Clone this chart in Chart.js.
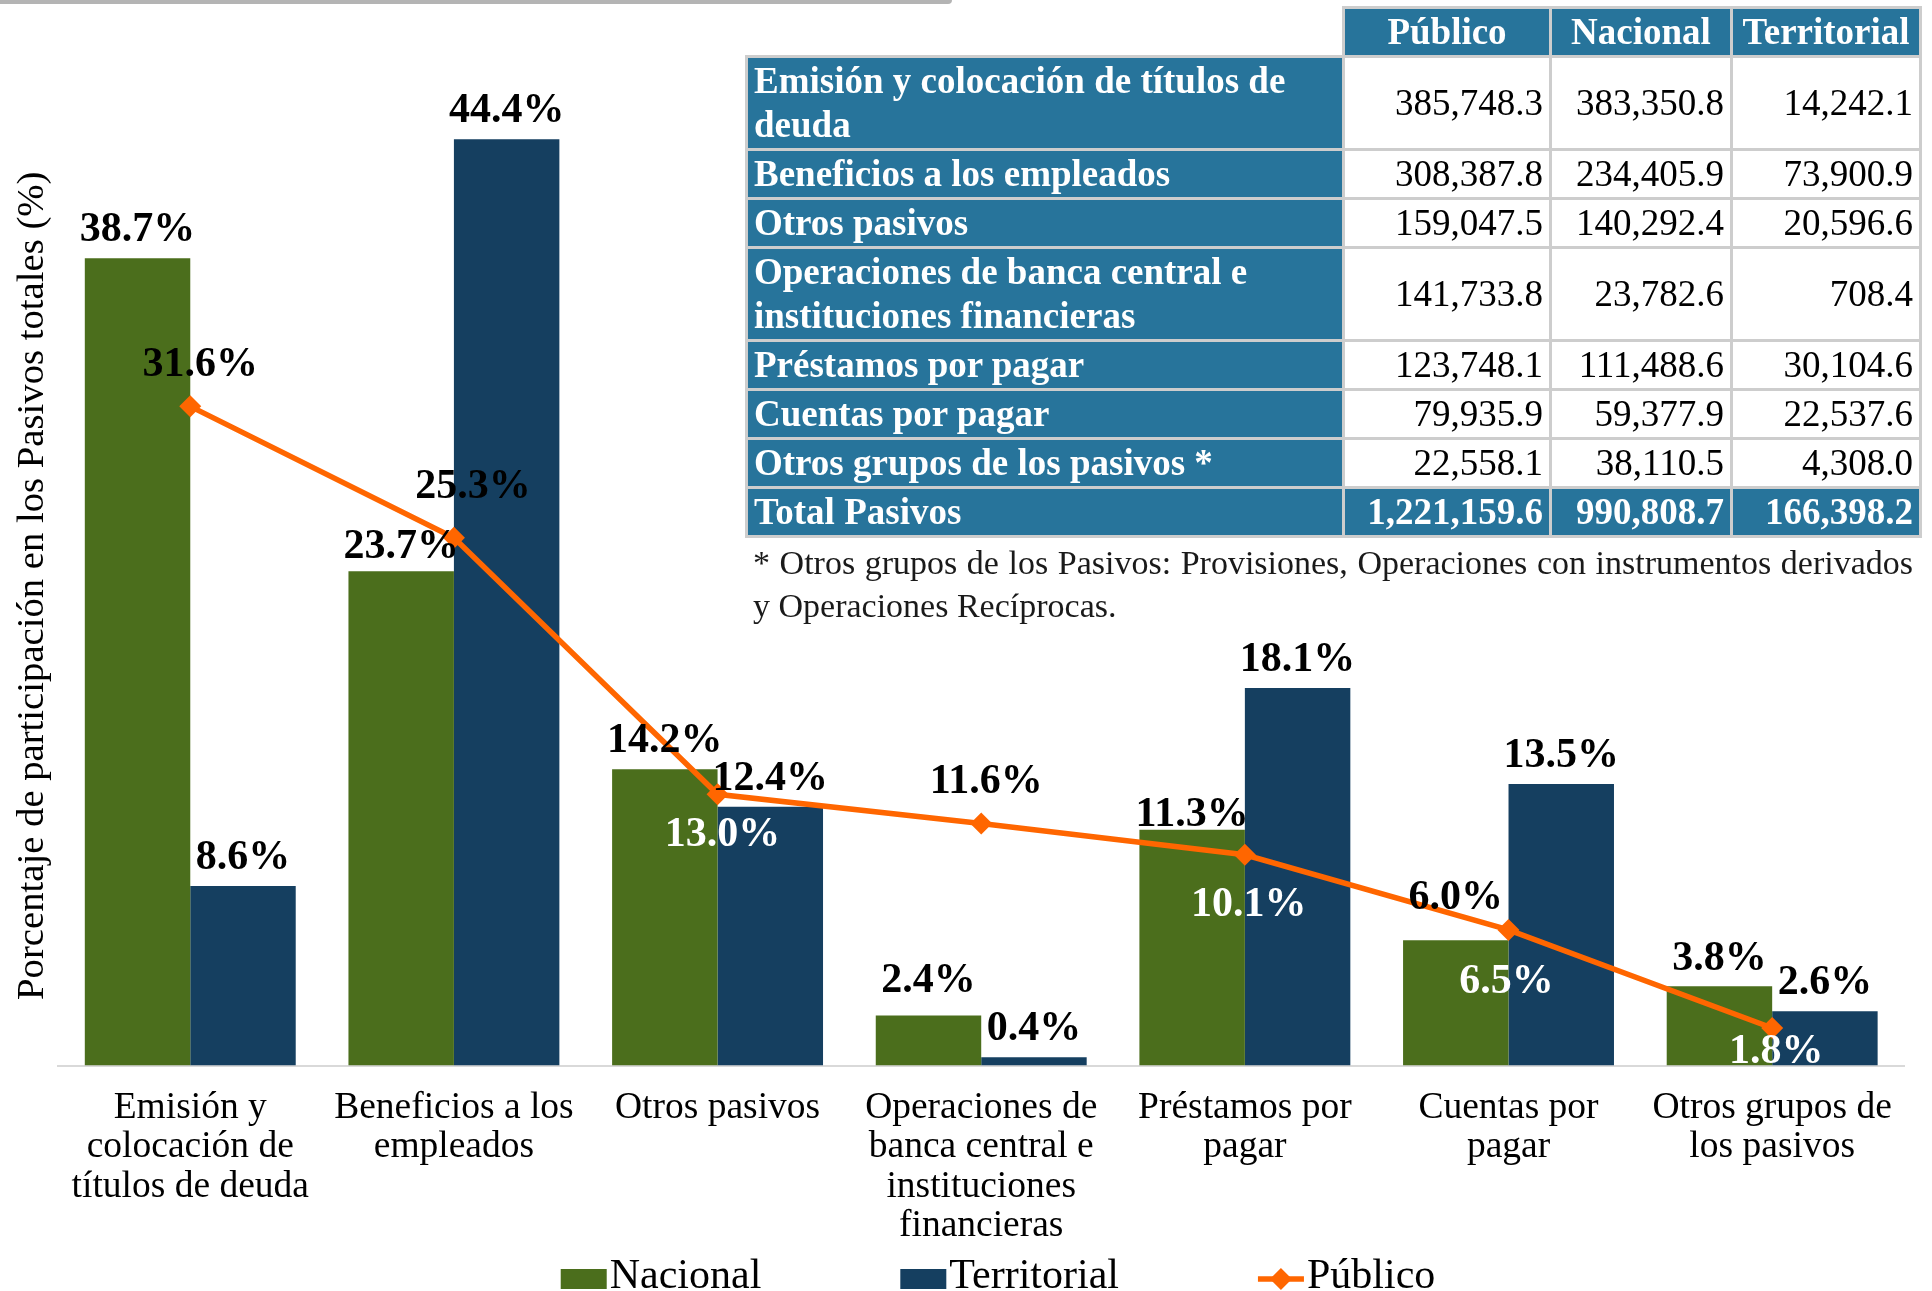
<!DOCTYPE html>
<html lang="es">
<head>
<meta charset="utf-8">
<title>Composición de los pasivos</title>
<script src="https://cdn.jsdelivr.net/npm/chart.js@4.4.1/dist/chart.umd.min.js"></script>
<style>
  html, body { margin: 0; padding: 0; background: #fff; overflow: hidden; }
  #contenedor { position: relative; width: 1932px; height: 1291px; }
  #grafico { position: absolute; left: 0; top: 0; }
  .franja { position: absolute; left: 0; top: 0; width: 952px; height: 4px; background: #b4b4b4; border-bottom-right-radius: 8px; }
  #tabla {
    position: absolute; left: 745px; top: 6px;
    border-collapse: collapse; table-layout: fixed;
    font-family: "Liberation Serif", "Times New Roman", serif; font-size: 37px;
  }
  #tabla th, #tabla td { border: 3px solid #cdcdcd; line-height: 44px; padding: 1px 6px; }
  #tabla th { background: #27749b; color: #fff; font-weight: bold; text-align: center; }
  #tabla th.vacio { background: none; border: none; }
  #tabla td.etiqueta { background: #27749b; color: #fff; font-weight: bold; text-align: left; }
  #tabla td.num { background: #fff; color: #000; text-align: right; }
  #tabla tr.total td { background: #27749b; color: #fff; font-weight: bold; }
  #nota {
    position: absolute; left: 753px; top: 541px; width: 1160px;
    font-family: "Liberation Serif", "Times New Roman", serif; font-size: 34px; line-height: 43px;
    text-align: justify; color: #1a1a1a;
  }
</style>
</head>
<body>
<div id="contenedor">
  <canvas id="grafico" width="1932" height="1291"></canvas>
  <div class="franja"></div>
  <table id="tabla">
    <colgroup><col style="width:597px"><col style="width:207px"><col style="width:181px"><col style="width:189px"></colgroup>
    <thead><tr><th class="vacio"></th><th>Público</th><th>Nacional</th><th>Territorial</th></tr></thead>
    <tbody></tbody>
  </table>
  <div id="nota">* Otros grupos de los Pasivos: Provisiones, Operaciones con instrumentos derivados y Operaciones Recíprocas.</div>
</div>
<script>
// Categorías del eje X (una línea por elemento)
const categorias = [
  ['Emisión y', 'colocación de', 'títulos de deuda'],
  ['Beneficios a los', 'empleados'],
  ['Otros pasivos'],
  ['Operaciones de', 'banca central e', 'instituciones', 'financieras'],
  ['Préstamos por', 'pagar'],
  ['Cuentas por', 'pagar'],
  ['Otros grupos de', 'los pasivos']
];

// Participación en los pasivos totales (%)
const nacional = [38.7, 23.7, 14.2, 2.4, 11.3, 6.0, 3.8];
const territorial = [8.6, 44.4, 12.4, 0.4, 18.1, 13.5, 2.6];
const publico = [31.6, 25.3, 13.0, 11.6, 10.1, 6.5, 1.8];

// Tabla de saldos
const filasTabla = [
  'Emisión y colocación de títulos de deuda',
  'Beneficios a los empleados',
  'Otros pasivos',
  'Operaciones de banca central e instituciones financieras',
  'Préstamos por pagar',
  'Cuentas por pagar',
  'Otros grupos de los pasivos *'
];
const saldoPublico = [385748.3, 308387.8, 159047.5, 141733.8, 123748.1, 79935.9, 22558.1];
const saldoNacional = [383350.8, 234405.9, 140292.4, 23782.6, 111488.6, 59377.9, 38110.5];
const saldoTerritorial = [14242.1, 73900.9, 20596.6, 708.4, 30104.6, 22537.6, 4308.0];
const totales = [1221159.6, 990808.7, 166398.2];

// Ubicación de las etiquetas (px)
const sepNacional = [17, 13, 17, 23, 4, 31, 16];
const sepTerritorial = 17;
const dxPublico = [10, 19, 5, 5, 4, -2, 4];
const dyPublico = [-30, -40, 52, -31, 61, 63, 35];

const VERDE = '#4b6e1c';
const AZUL = '#153f60';
const NARANJA = '#ff6600';
const FUENTE = '"Liberation Serif", "Times New Roman", serif';

// Llenado de la tabla
const miles = v => v.toLocaleString('en-US', { minimumFractionDigits: 1, maximumFractionDigits: 1 });
const cuerpo = document.querySelector('#tabla tbody');
filasTabla.forEach((nombre, i) => {
  const tr = document.createElement('tr');
  tr.innerHTML = '<td class="etiqueta">' + nombre + '</td>' +
    '<td class="num">' + miles(saldoPublico[i]) + '</td>' +
    '<td class="num">' + miles(saldoNacional[i]) + '</td>' +
    '<td class="num">' + miles(saldoTerritorial[i]) + '</td>';
  cuerpo.appendChild(tr);
});
const trTotal = document.createElement('tr');
trTotal.className = 'total';
trTotal.innerHTML = '<td class="etiqueta">Total Pasivos</td>' +
  totales.map(v => '<td class="num">' + miles(v) + '</td>').join('');
cuerpo.appendChild(trTotal);

const pct = v => v.toFixed(1) + '%';

// Etiquetas de valor sobre barras y línea
const etiquetas = {
  id: 'etiquetas',
  afterDatasetsDraw(chart) {
    const ctx = chart.ctx;
    ctx.save();
    ctx.font = 'bold 42px ' + FUENTE;
    ctx.textAlign = 'center';
    ctx.textBaseline = 'alphabetic';
    ctx.fillStyle = '#000';
    chart.getDatasetMeta(0).data.forEach((barra, i) => {
      ctx.fillText(pct(nacional[i]), barra.x, barra.y - sepNacional[i]);
    });
    chart.getDatasetMeta(1).data.forEach((barra, i) => {
      ctx.fillText(pct(territorial[i]), barra.x, barra.y - sepTerritorial);
    });
    chart.getDatasetMeta(2).data.forEach((punto, i) => {
      ctx.fillStyle = dyPublico[i] > 0 ? '#fff' : '#000';
      ctx.fillText(pct(publico[i]), punto.x + dxPublico[i], punto.y + dyPublico[i]);
    });
    ctx.restore();
  }
};

// Leyenda inferior dibujada a mano (cuadros, línea con rombo)
const leyenda = {
  id: 'leyenda',
  afterDraw(chart) {
    const ctx = chart.ctx;
    const y = chart.height - 14;
    const caja = 46, sep = 3, entre = 139;
    ctx.save();
    ctx.font = '42px ' + FUENTE;
    ctx.textBaseline = 'middle';
    ctx.textAlign = 'left';
    const items = chart.data.datasets.map(ds => ({
      texto: ds.label, color: ds.borderColor || ds.backgroundColor, tipo: ds.type
    }));
    const anchos = items.map(it => caja + sep + ctx.measureText(it.texto).width);
    const total = anchos.reduce((a, b) => a + b, 0) + entre * (items.length - 1);
    let x = chart.width / 2 + 32 - total / 2;
    items.forEach((it, i) => {
      if (it.tipo === 'line') {
        ctx.strokeStyle = it.color;
        ctx.lineWidth = 5.5;
        ctx.beginPath();
        ctx.moveTo(x, y + 2);
        ctx.lineTo(x + caja, y + 2);
        ctx.stroke();
        ctx.fillStyle = it.color;
        ctx.beginPath();
        ctx.moveTo(x + caja / 2, y + 2 - 11);
        ctx.lineTo(x + caja / 2 + 11, y + 2);
        ctx.lineTo(x + caja / 2, y + 2 + 11);
        ctx.lineTo(x + caja / 2 - 11, y + 2);
        ctx.closePath();
        ctx.fill();
      } else {
        ctx.fillStyle = it.color;
        ctx.fillRect(x, y - 8, caja, 20);
      }
      ctx.fillStyle = '#000';
      ctx.fillText(it.texto, x + caja + sep, y);
      x += anchos[i] + entre;
    });
    ctx.restore();
  }
};

Chart.defaults.font.family = FUENTE;

new Chart(document.getElementById('grafico'), {
  data: {
    labels: categorias,
    datasets: [
      {
        type: 'bar', label: 'Nacional', data: nacional,
        backgroundColor: VERDE, order: 1,
        categoryPercentage: 0.8, barPercentage: 1.0
      },
      {
        type: 'bar', label: 'Territorial', data: territorial,
        backgroundColor: AZUL, order: 1,
        categoryPercentage: 0.8, barPercentage: 1.0
      },
      {
        type: 'line', label: 'Público', data: publico,
        borderColor: NARANJA, backgroundColor: NARANJA, borderWidth: 5.5,
        tension: 0, pointStyle: 'rectRot', pointRadius: 11, pointBorderWidth: 0,
        pointBackgroundColor: NARANJA, order: 0
      }
    ]
  },
  options: {
    responsive: false,
    animation: false,
    layout: { padding: { top: 106, right: 28, bottom: 22, left: 0 } },
    plugins: {
      legend: { display: false },
      tooltip: { enabled: false }
    },
    scales: {
      x: {
        grid: { display: false, drawTicks: false },
        border: { display: true, color: '#d9d9d9', width: 2 },
        ticks: {
          color: '#000', padding: 23, maxRotation: 0, autoSkip: false,
          font: { size: 37.5, lineHeight: 1.05 }
        }
      },
      y: {
        min: 0, max: 46,
        grid: { display: false, drawTicks: false },
        border: { display: false },
        ticks: { display: false },
        title: {
          display: true,
          text: 'Porcentaje de participación en los Pasivos totales (%)',
          color: '#000',
          font: { size: 38.7, lineHeight: 1.2 },
          padding: { top: 10, bottom: 2 }
        }
      }
    }
  },
  plugins: [etiquetas, leyenda]
});
</script>
</body>
</html>
